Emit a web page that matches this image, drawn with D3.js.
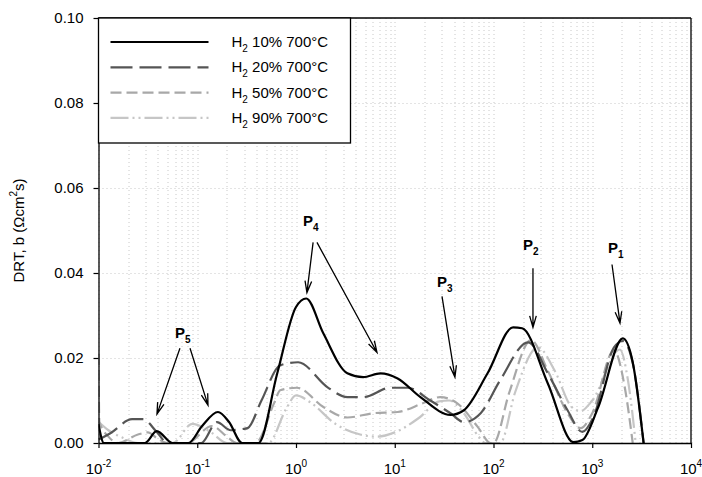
<!DOCTYPE html>
<html>
<head>
<meta charset="utf-8">
<script src="https://d3js.org/d3.v7.min.js"></script>
<style>
    body { margin: 0; background: #fff; }
    svg { display: block; font-family: Arial, "Liberation Sans", sans-serif; }
</style>
</head>
<body>
<svg id="chart" width="702" height="477"></svg>
<script>
// series: [tau, DRT value]
var seriesNames = ["10%", "20%", "50%", "90%"];

var h2_10 = [[0.01,0.0045],[0.01135,0],[0.0295,0],[0.0389,0.0028],[0.0562,0],[0.0813,0],
    [0.112,0.004],[0.162,0.0073],[0.209,0.005],[0.285,0],[0.417,0],[0.646,0.0164],[1.0,0.032],
    [1.27,0.034],[1.89,0.0258],[3.31,0.0164],[4.79,0.0155],[7.16,0.0164],[10.7,0.0152],
    [18.2,0.0108],[36.7,0.0066],[50.1,0.0077],[87.1,0.0164],[158,0.0272],[195,0.027],
    [355,0.014],[646,0.0002],[794,0.0007],[1148,0.0084],[2042,0.0246],[2570,0.019],[3311,0]];

var h2_20 = [[0.01,0.0008],[0.0132,0.0023],[0.0219,0.0056],[0.0282,0.0056],[0.0389,0.0026],
    [0.0501,0],[0.110,0],[0.158,0.0049],[0.219,0.003],[0.288,0.0033],[0.324,0.0035],
    [0.447,0.010],[0.692,0.0183],[1.05,0.019],[2.09,0.0131],[3.31,0.0108],[4.79,0.0108],
    [9.02,0.013],[13.5,0.013],[22.9,0.010],[36.7,0.007],[50.1,0.0049],[74.1,0.007],
    [117,0.0148],[224,0.0237],[355,0.0164],[562,0.0077],[794,0.0026],[1023,0.006],
    [1660,0.0225],[2042,0.024],[2570,0.0188],[3311,0]];

var h2_50 = [[0.01,0.021],[0.0102,0.005],[0.0126,0.0015],[0.0158,0],[0.0251,0.002],
    [0.0316,0.0025],[0.0398,0.001],[0.0501,0],[0.079,0],[0.141,0.004],[0.2,0.0015],
    [0.25,0],[0.389,0],[0.603,0.0095],[0.692,0.0124],[1.02,0.013],[1.91,0.0084],[3.31,0.006],
    [6.03,0.007],[10.7,0.0073],[19.5,0.0094],[28.8,0.0108],[42.7,0.0094],[69.2,0.0038],
    [93.3,0],[100,0],[145,0.012],[240,0.0242],[355,0.017],[562,0.007],[760,0.0035],
    [1000,0.007],[1660,0.0218],[2138,0.013],[2570,0]];

var h2_90 = [[0.01,0.005],[0.0126,0.003],[0.0178,0.0012],[0.0251,0],[0.0562,0],
    [0.0891,0.0045],[0.138,0.0025],[0.2,0],[0.525,0],[0.794,0.008],[1.0,0.0112],
    [1.41,0.0095],[2.51,0.0045],[4.47,0.002],[6.61,0.0015],[10.0,0.0025],[17.8,0.006],
    [28.2,0.0098],[35.5,0.010],[50.1,0.007],[70.8,0.0015],[83.2,0],[117,0],[166,0.012],
    [282,0.0225],[417,0.017],[617,0.0085],[759,0.0075],[1000,0.01],[1905,0.022],
    [2291,0.015],[2754,0]];

var yTicks = [0, 0.02, 0.04, 0.06, 0.08, 0.10];
var xTickExp = [-2, -1, 0, 1, 2, 3, 4];

// peak labels: [label, sub, labelX, labelY, arrows [[x0,y0,x1,y1], ...]]
var peaks = [
    ["P", "5", 0.0596, 0.0246, [[0.0668,0.0223,0.0391,0.0068],[0.0845,0.0223,0.1285,0.0089]]],
    ["P", "4", 1.18, 0.0511, [[1.49,0.0472,1.29,0.0354],[1.63,0.0472,6.61,0.0213]]],
    ["P", "3", 26.8, 0.0366, [[30.1,0.0345,40.7,0.0155]]],
    ["P", "2", 199, 0.0453, [[251,0.0411,251,0.0272]]],
    ["P", "1", 1445, 0.0446, [[1585,0.042,1910,0.0282]]]
];

var styles = [
    { color: "#000000", width: 2.2, dash: null },
    { color: "#555555", width: 2.2, dash: "22,7" },
    { color: "#a8a8a8", width: 2.2, dash: "11,5" },
    { color: "#c6c6c6", width: 2.2, dash: "18,4,2,4,2,4" }
];
var allSeries = [h2_10, h2_20, h2_50, h2_90];

var svg = d3.select("#chart");
var margin = { left: 98.5, right: 11, top: 18, bottom: 34 };
var width = 702 - margin.left - margin.right,
    height = 477 - margin.top - margin.bottom;

var x = d3.scaleLog().domain([0.01, 10000]).range([0, width]);
var y = d3.scaleLinear().domain([0, 0.10]).range([height, 0]);

var g = svg.append("g").attr("transform", "translate(" + margin.left + "," + margin.top + ")");

// grid
var minorVals = [];
for (var e = -2; e < 4; e++) {
    for (var m = 1; m <= 9; m++) minorVals.push(m * Math.pow(10, e));
}
minorVals.push(10000);
g.append("g").selectAll("line").data(minorVals).enter().append("line")
    .attr("x1", d => Math.round(x(d)) + 0.5).attr("x2", d => Math.round(x(d)) + 0.5)
    .attr("y1", 0).attr("y2", height)
    .attr("stroke", "#c8c8c8").attr("stroke-width", 1).attr("stroke-dasharray", "1,3");
g.append("g").selectAll("line").data(yTicks.slice(1, 5)).enter().append("line")
    .attr("x1", 0).attr("x2", width)
    .attr("y1", d => Math.round(y(d)) + 0.5).attr("y2", d => Math.round(y(d)) + 0.5)
    .attr("stroke", "#c8c8c8").attr("stroke-width", 1).attr("stroke-dasharray", "1,3");

// clip
svg.append("defs").append("clipPath").attr("id", "clip")
    .append("rect").attr("x", 0).attr("y", 0).attr("width", width).attr("height", height);

var line = d3.line()
    .x(d => x(d[0]))
    .y(d => y(d[1]))
    .curve(d3.curveMonotoneX);

var lines = g.append("g").attr("clip-path", "url(#clip)");
for (var i = allSeries.length - 1; i >= 0; i--) {
    lines.append("path")
        .datum(allSeries[i])
        .attr("d", line)
        .attr("fill", "none")
        .attr("stroke", styles[i].color)
        .attr("stroke-width", styles[i].width)
        .attr("stroke-dasharray", styles[i].dash)
        .attr("stroke-linejoin", "round");
}

// axes
var yAxis = g.append("g")
    .call(d3.axisLeft(y).tickValues(yTicks).tickFormat(d3.format(".2f")).tickSize(5).tickSizeOuter(0).tickPadding(10));
yAxis.selectAll("text").attr("font-size", 15).attr("fill", "#000").attr("font-family", "Arial, 'Liberation Sans', sans-serif");

var xAxis = g.append("g").attr("transform", "translate(0," + height + ")")
    .call(d3.axisBottom(x).tickValues(xTickExp.map(d => Math.pow(10, d))).tickFormat("").tickSize(5).tickSizeOuter(0));
g.selectAll(".domain").attr("stroke", "#000").attr("stroke-width", 1.3);
g.selectAll(".tick line").attr("stroke", "#000").attr("stroke-width", 1.2);

var xl = g.append("g").attr("font-size", 15);
xTickExp.forEach(function(ex) {
    var t = xl.append("text")
        .attr("x", x(Math.pow(10, ex)))
        .attr("y", height + 31)
        .attr("text-anchor", "middle");
    t.append("tspan").text("10");
    t.append("tspan").attr("font-size", 10).attr("dy", -7).text(ex);
});

// top & right frame
g.append("line").attr("x1", 0).attr("x2", width).attr("y1", 0).attr("y2", 0).attr("stroke", "#000").attr("stroke-width", 1.3);
g.append("line").attr("x1", width).attr("x2", width).attr("y1", 0).attr("y2", height).attr("stroke", "#000").attr("stroke-width", 1.3);

// y title
var yt = svg.append("text")
    .attr("transform", "translate(24," + (margin.top + height / 2) + ") rotate(-90)")
    .attr("text-anchor", "middle")
    .attr("font-size", 15);
yt.append("tspan").text("DRT, b (\u03A9cm");
yt.append("tspan").attr("font-size", 10).attr("dy", -7).text("2");
yt.append("tspan").attr("dy", 7).text("s)");

// peak annotations
var ann = g.append("g");
peaks.forEach(function(p) {
    var t = ann.append("text")
        .attr("x", x(p[2])).attr("y", y(p[3]))
        .attr("font-size", 15).attr("font-weight", "bold");
    t.append("tspan").text(p[0]);
    t.append("tspan").attr("font-size", 10).attr("dy", 5).text(p[1]);
    p[4].forEach(function(a) {
        var x0 = x(a[0]), y0 = y(a[1]), x1 = x(a[2]), y1 = y(a[3]);
        var ang = Math.atan2(y1 - y0, x1 - x0);
        var hl = 12, ha = 0.28;
        ann.append("path")
            .attr("d", "M" + x0 + "," + y0 + "L" + x1 + "," + y1 +
                "M" + (x1 - hl * Math.cos(ang - ha)) + "," + (y1 - hl * Math.sin(ang - ha)) +
                "L" + x1 + "," + y1 +
                "L" + (x1 - hl * Math.cos(ang + ha)) + "," + (y1 - hl * Math.sin(ang + ha)))
            .attr("fill", "none").attr("stroke", "#000").attr("stroke-width", 1.3);
    });
});

// legend
var leg = g.append("g");
leg.append("rect").attr("x", 0).attr("y", 0).attr("width", 252).attr("height", 125)
    .attr("fill", "#fff").attr("stroke", "#000").attr("stroke-width", 1.3);
seriesNames.forEach(function(name, i) {
    var ly = 24 + i * 25.3;
    leg.append("line").attr("x1", 12).attr("x2", 110).attr("y1", ly).attr("y2", ly)
        .attr("stroke", styles[i].color).attr("stroke-width", styles[i].width)
        .attr("stroke-dasharray", styles[i].dash);
    var t = leg.append("text").attr("x", 133).attr("y", ly + 5).attr("font-size", 15);
    t.append("tspan").text("H");
    t.append("tspan").attr("font-size", 10).attr("dy", 5).text("2");
    t.append("tspan").attr("dy", -5).text(" " + name + " 700\u00B0C");
});
</script>
</body>
</html>
